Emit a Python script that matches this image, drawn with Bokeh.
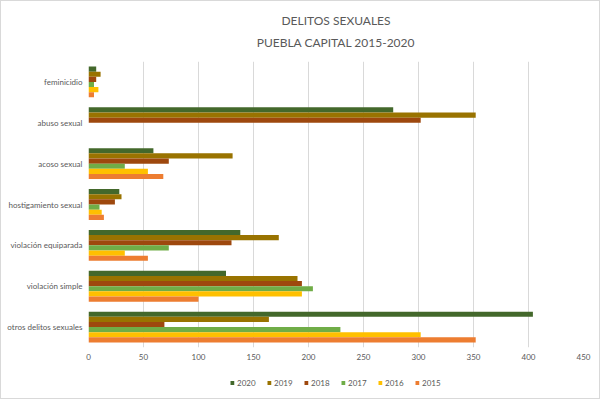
from bokeh.plotting import figure
from bokeh.models import FactorRange, ColumnDataSource, Label, Legend, LegendItem, FixedTicker, Range1d
from bokeh.layouts import column
from bokeh.transform import dodge
from bokeh.embed import file_html
from bokeh.resources import INLINE

categories = ["feminicidio", "abuso sexual", "acoso sexual", "hostigamiento sexual",
              "violación equiparada", "violación simple", "otros delitos sexuales"]
years = ["2020", "2019", "2018", "2017", "2016", "2015"]
v2020 = [7, 277, 59, 28, 138, 125, 404]
v2019 = [11, 352, 131, 30, 173, 190, 164]
v2018 = [7, 302, 73, 24, 130, 194, 69]
v2017 = [5, 0, 33, 10, 73, 204, 229]
v2016 = [9, 0, 54, 12, 33, 194, 302]
v2015 = [5, 0, 68, 14, 54, 100, 352]
colors = ["#43682B", "#997300", "#9E480E", "#70AD47", "#FFC000", "#ED7D31"]
x_ticks = [0, 50, 100, 150, 200, 250, 300, 350, 400, 450]
title_lines = ["DELITOS SEXUALES", "PUEBLA CAPITAL 2015-2020"]

FONT = "Lato"
GRAY = "#595959"
W = 598

src = ColumnDataSource(dict(cat=categories, y2020=v2020, y2019=v2019, y2018=v2018,
                            y2017=v2017, y2016=v2016, y2015=v2015))

# ---- title strip
ttl = figure(width=W, height=60, x_range=Range1d(0, 1), y_range=Range1d(0, 60),
             output_backend="svg", toolbar_location=None, min_border=0)
ttl.axis.visible = False
ttl.grid.visible = False
ttl.outline_line_color = None
for txt, ypos in zip(title_lines, [41, 19]):
    ttl.add_layout(Label(x=0.5, y=ypos, text=txt, text_align="center", text_baseline="middle",
                         text_font=FONT, text_font_size="12px", text_color=GRAY))

# ---- main chart
p = figure(width=W, height=306, y_range=FactorRange(factors=list(reversed(categories)), range_padding=0),
           x_range=(0, 450), output_backend="svg", toolbar_location=None, title=None,
           min_border_left=87, min_border_right=16, min_border_top=0, min_border_bottom=20)

bh = 0.126
for i, (yr, col) in enumerate(zip(years, colors)):
    off = (2.5 - i) * bh
    p.hbar(y=dodge("cat", off, range=p.y_range), right="y" + yr, left=0, height=bh,
           source=src, color=col, line_color=None)

p.xaxis.ticker = FixedTicker(ticks=x_ticks)
p.xaxis.axis_line_color = None
p.xaxis.major_tick_line_color = None
p.xaxis.minor_tick_line_color = None
p.xaxis.major_tick_out = 0
p.xaxis.major_tick_in = 0
p.xaxis.major_label_text_font = FONT
p.xaxis.major_label_text_font_size = "8px"
p.xaxis.major_label_text_color = GRAY
p.xaxis.major_label_standoff = 6

p.yaxis.axis_line_color = None
p.yaxis.major_tick_line_color = None
p.yaxis.minor_tick_line_color = None
p.yaxis.major_tick_out = 0
p.yaxis.major_tick_in = 0
p.yaxis.major_label_text_font = FONT
p.yaxis.major_label_text_font_size = "8px"
p.yaxis.major_label_text_color = GRAY
p.yaxis.major_label_standoff = 6

p.ygrid.grid_line_color = None
p.xgrid.grid_line_color = "#d9d9d9"
p.xgrid.ticker = FixedTicker(ticks=x_ticks)
p.outline_line_color = None

# ---- legend strip below the chart (same data; its bars have zero height and lie outside the strip's range)
lg = figure(width=W, height=31, x_range=Range1d(1000, 1001),
            y_range=FactorRange(factors=list(reversed(categories))),
            output_backend="svg", toolbar_location=None, min_border=0)
lg.axis.visible = False
lg.grid.visible = False
lg.outline_line_color = None
items = []
for yr, col in zip(years, colors):
    r = lg.hbar(y="cat", right="y" + yr, left=0, height=0, source=src,
                color=col, line_color=None)
    items.append(LegendItem(label=yr, renderers=[r]))
legend = Legend(items=items, orientation="horizontal", location="center",
                label_text_font=FONT, label_text_font_size="8px", label_text_color=GRAY,
                glyph_width=5, glyph_height=5, label_standoff=3, spacing=9,
                border_line_color=None, background_fill_alpha=0, padding=0, margin=0)
lg.add_layout(legend)

layout = column(ttl, p, lg, spacing=0, styles={"border": "1px solid #d9d9d9"})

open("out.html", "w").write(file_html(layout, INLINE))
